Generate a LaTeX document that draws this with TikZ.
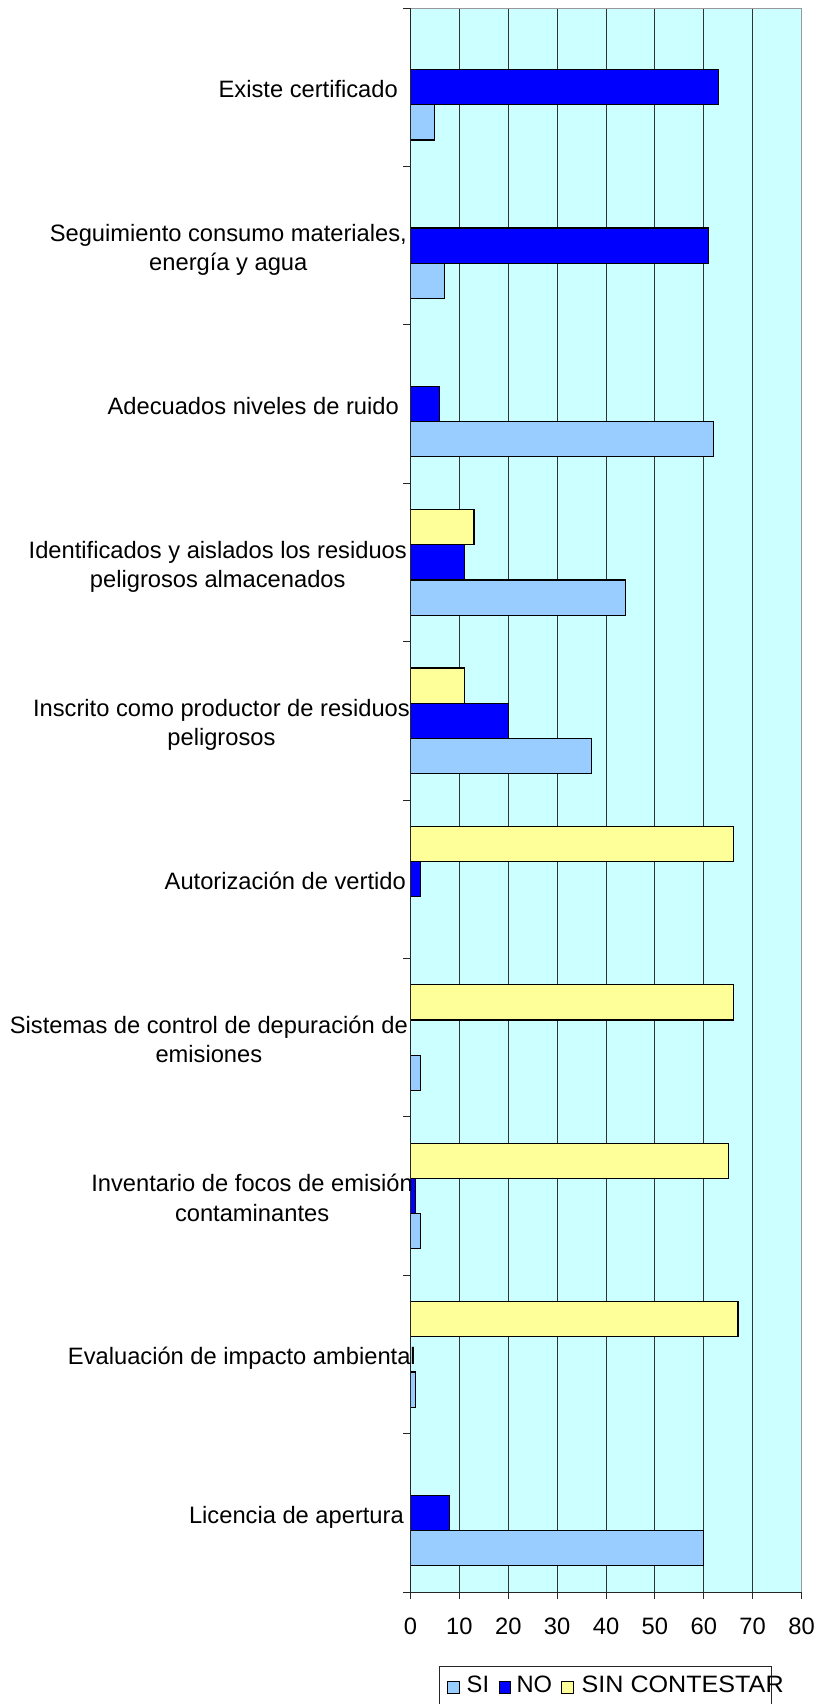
\documentclass[tikz,border=0pt]{standalone}
\usepackage{fontspec}
\setmainfont{Liberation Sans}
\definecolor{plotbg}{HTML}{CCFFFF}
\definecolor{sicol}{HTML}{99CCFF}
\definecolor{nocol}{HTML}{0000FF}
\definecolor{sccol}{HTML}{FFFF99}
\newcommand{\labstrut}{\rule[-6.4pt]{0pt}{28.4pt}}
\tikzset{
  bar/.style={draw=black, line width=1.1pt},
  gridline/.style={black!80, line width=0.8pt},
  axisline/.style={black!85, line width=0.9pt},
  catlabel/.style={anchor=east, align=center, inner sep=0pt, font=\fontsize{23.7}{28}\selectfont},
  ticklabel/.style={anchor=base, inner sep=0pt, font=\fontsize{23.7}{28}\selectfont},
  legsq/.style={draw=black, line width=0.8pt, minimum size=11.5pt, inner sep=0pt},
  legtext/.style={anchor=base west, inner sep=0pt, font=\fontsize{23.7}{28}\selectfont},
}

\begin{document}
\begin{tikzpicture}[x=1pt, y=-1pt]
  \useasboundingbox (0,0) rectangle (819,1704);
  \pgfmathsetmacro{\xzero}{410.5}
  \pgfmathsetmacro{\xunit}{4.8875}
  \pgfmathsetmacro{\catw}{158.4}

  % plot area
  \fill[plotbg] (\xzero,8) rectangle (801.5,1592);
  \foreach \v in {10,20,...,70} {
    \draw[gridline] (\xzero+\v*\xunit, 8) -- (\xzero+\v*\xunit, 1592);
  }
  \draw[gray!80, line width=0.8pt] (\xzero,8) -- (801.5,8) -- (801.5,1592);

  % bars: SI, NO, SIN CONTESTAR
  \foreach \i/\si/\no/\sc in {0/5/63/0, 1/7/61/0, 2/62/6/0, 3/44/11/13, 4/37/20/11,
                              5/0/2/66, 6/2/0/66, 7/2/1/65, 8/1/0/67, 9/60/8/0} {
    \pgfmathsetmacro{\ytop}{8+\catw*\i+26.4}
    \draw[bar, fill=sccol] (\xzero, \ytop) rectangle (\xzero+\sc*\xunit, \ytop+35.2);
    \draw[bar, fill=nocol] (\xzero, \ytop+35.2) rectangle (\xzero+\no*\xunit, \ytop+70.4);
    \draw[bar, fill=sicol] (\xzero, \ytop+70.4) rectangle (\xzero+\si*\xunit, \ytop+105.6);
  }

  % axes and ticks
  \draw[axisline] (\xzero,8) -- (\xzero,1592) -- (801.5,1592);
  \foreach \k in {0,...,10} {
    \draw[axisline] (403, 8+\k*\catw) -- (\xzero, 8+\k*\catw);
  }
  \foreach \v in {0,10,...,80} {
    \draw[axisline] (\xzero+\v*\xunit, 1592) -- (\xzero+\v*\xunit, 1599);
    \node[ticklabel] (val\v) at (\xzero+\v*\xunit, 1634.5) {\v};
  }

  % category labels
  \foreach \i/\rx/\lab in {0/398/{Existe certificado},
      1/407/{Seguimiento consumo materiales,\\energía y agua},
      2/399/{Adecuados niveles de ruido},
      3/407/{Identificados y aislados los residuos\\peligrosos almacenados},
      4/410/{Inscrito como productor de residuos\\peligrosos},
      5/406/{Autorización de vertido},
      6/408/{Sistemas de control de depuración de\\emisiones},
      7/413/{Inventario de focos de emisión\\contaminantes},
      8/416/{Evaluación de impacto ambiental},
      9/404/{Licencia de apertura}} {
    \node[catlabel] (cat\i) at (\rx, 8+\catw*\i+\catw/2+2.5) {\labstrut\lab\labstrut};
  }

  % legend
  \draw[black!85, line width=0.8pt] (439,1710) -- (439,1666) -- (771,1666) -- (771,1710);
  \node[legsq, fill=sicol] (sqsi) at (453.3,1687.2) {};
  \node[legtext] (txtsi) at (466.5,1692.7) {SI};
  \node[legsq, fill=nocol] (sqno) at (505,1687.2) {};
  \node[legtext] (txtno) at (516.3,1692.7) {NO};
  \node[legsq, fill=sccol] (sqsc) at (567.4,1687.2) {};
  \node[legtext] (txtsc) at (581.5,1692.7) {\scalebox{1.06}[1]{SIN CONTESTAR}};
\end{tikzpicture}
\end{document}
